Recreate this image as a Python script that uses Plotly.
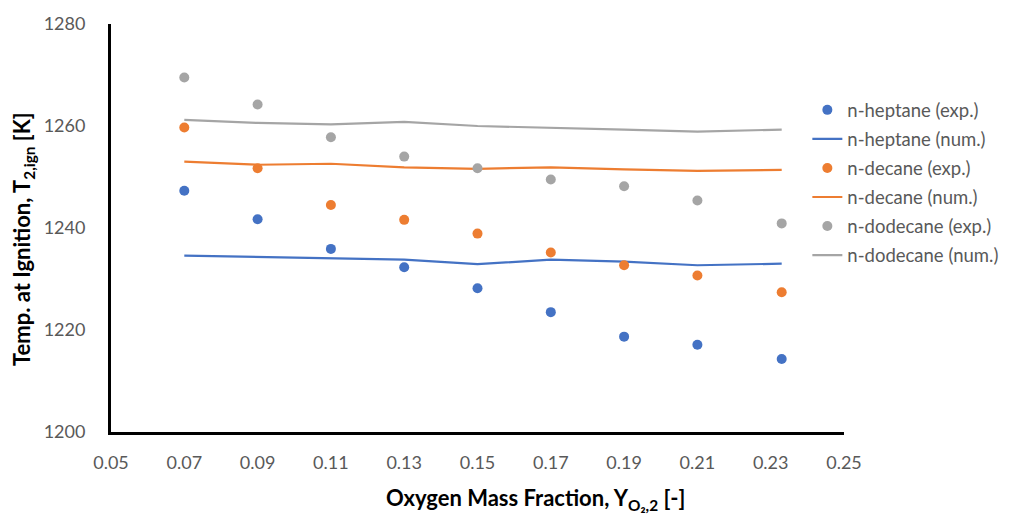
import plotly.graph_objects as go

# Oxygen mass fraction at the oxidizer boundary
oxygen_fraction = [0.07, 0.09, 0.11, 0.13, 0.15, 0.17, 0.19, 0.21, 0.233]

# Ignition temperatures [K]
heptane_exp = [1247.3, 1241.7, 1235.9, 1232.3, 1228.2, 1223.5, 1218.7, 1217.1, 1214.3]
heptane_num = [1234.6, 1234.3, 1234.0, 1233.8, 1232.9, 1233.8, 1233.4, 1232.7, 1233.0]
decane_exp = [1259.7, 1251.7, 1244.5, 1241.6, 1238.9, 1235.2, 1232.7, 1230.7, 1227.4]
decane_num = [1253.0, 1252.4, 1252.6, 1251.9, 1251.6, 1251.9, 1251.5, 1251.2, 1251.4]
dodecane_exp = [1269.5, 1264.2, 1257.8, 1254.0, 1251.7, 1249.5, 1248.2, 1245.4, 1240.9]
dodecane_num = [1261.2, 1260.6, 1260.3, 1260.8, 1260.0, 1259.7, 1259.3, 1258.9, 1259.3]

x_ticks = [0.05, 0.07, 0.09, 0.11, 0.13, 0.15, 0.17, 0.19, 0.21, 0.23, 0.25]
y_ticks = [1200, 1220, 1240, 1260, 1280]

BLUE = "#4472C4"
ORANGE = "#ED7D31"
GRAY = "#A5A5A5"
TEXT = "#595959"
FONT = "Lato"

series = [
    ("n-heptane (exp.)", heptane_exp, BLUE, "markers"),
    ("n-heptane (num.)", heptane_num, BLUE, "lines"),
    ("n-decane (exp.)", decane_exp, ORANGE, "markers"),
    ("n-decane (num.)", decane_num, ORANGE, "lines"),
    ("n-dodecane (exp.)", dodecane_exp, GRAY, "markers"),
    ("n-dodecane (num.)", dodecane_num, GRAY, "lines"),
]

fig = go.Figure()
for i, (name, values, color, mode) in enumerate(series):
    if mode == "markers":
        fig.add_trace(go.Scatter(
            x=oxygen_fraction, y=values, name=name, mode="markers",
            marker=dict(color=color, size=10),
            legendgroup=f"g{i}",
        ))
    else:
        fig.add_trace(go.Scatter(
            x=oxygen_fraction, y=values, name=name, mode="lines",
            line=dict(color=color, width=2.2),
            legendgroup=f"g{i}",
        ))

fig.update_layout(
    width=1016,
    height=516,
    margin=dict(l=111, r=171, t=18, b=84),
    paper_bgcolor="white",
    plot_bgcolor="white",
    font=dict(family=FONT, color=TEXT),
    legend=dict(
        x=0.95, xanchor="left",
        y=0.835, yanchor="top",
        font=dict(family=FONT, size=18.5, color=TEXT),
        traceorder="grouped",
        tracegroupgap=2,
        bgcolor="rgba(0,0,0,0)",
    ),
    xaxis=dict(
        range=[0.05, 0.25],
        tickmode="array",
        tickvals=x_ticks,
        ticktext=[f"{v:.2f}" for v in x_ticks],
        showgrid=False,
        zeroline=False,
        showline=True,
        linecolor="black",
        linewidth=3,
        ticks="",
        ticklabelstandoff=12,
        tickfont=dict(family=FONT, size=18, color=TEXT),
    ),
    yaxis=dict(
        range=[1200, 1280],
        tickmode="array",
        tickvals=y_ticks,
        showgrid=False,
        zeroline=False,
        showline=True,
        linecolor="black",
        linewidth=3,
        ticks="",
        ticklabelstandoff=19,
        tickfont=dict(family=FONT, size=18, color=TEXT),
    ),
    annotations=[
        dict(
            text="<b>Oxygen Mass Fraction, Y<sub>O₂,2</sub> [-]</b>",
            xref="paper", yref="paper", x=0.579, y=-0.163,
            xanchor="center", yanchor="middle", showarrow=False,
            font=dict(family=FONT, size=22, color="black"),
        ),
        dict(
            text="<b>Temp. at Ignition, T<sub>2,ign</sub> [K]</b>",
            xref="paper", yref="paper", x=-0.12, y=0.473,
            xanchor="center", yanchor="middle", showarrow=False,
            textangle=-90,
            font=dict(family=FONT, size=22, color="black"),
        ),
    ],
)

fig.write_html("out.html")
